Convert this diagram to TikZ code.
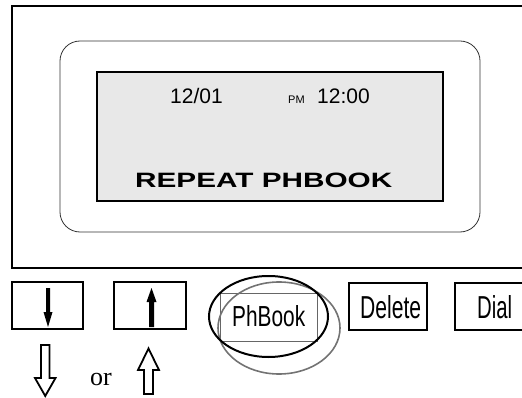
\documentclass[tikz,border=0pt]{standalone}
\usepackage{fontspec}
\setmainfont{Liberation Sans}
\newfontfamily\seriffont{Liberation Serif}
\usepackage{graphicx}
\begin{document}
\begin{tikzpicture}[x=1pt,y=-1pt,
  frame/.style={draw=black,line width=1.5pt},
  btn/.style={draw=black,line width=1.8pt,rectangle,inner sep=0pt},
  lbl/.style={inner sep=0pt,anchor=base west},
  hollow/.style={draw=black,line width=1.8pt,fill=white,line join=miter}]
\useasboundingbox (0,0) rectangle (522,398);
\clip (0,0) rectangle (522,398);
% housing
\draw[frame] (12,6) rectangle (540,268);
\draw[line width=0.8pt, draw=black!80, rounded corners=20pt] (60,41) rectangle (480,232);
% LCD
\node[draw=black, line width=2pt, fill=black!9, rectangle, minimum width=346pt, minimum height=129pt, inner sep=0pt] (lcd) at (270,136.5) {};
\node[lbl, font=\fontsize{21pt}{21pt}\selectfont] (date) at (170,104) {12/01};
\node[lbl, font=\fontsize{11pt}{11pt}\selectfont] (pm) at (288,104) {PM};
\node[lbl, font=\fontsize{21pt}{21pt}\selectfont] (time) at (317,104) {12:00};
\node[lbl] (mode) at (135,188) {\resizebox{257pt}{14.5pt}{\bfseries REPEAT PHBOOK}};
% buttons
\node[btn, minimum width=71pt, minimum height=47pt] (bdown) at (47.5,305.5) {};
\node[btn, minimum width=72pt, minimum height=47pt] (bup) at (150,305.5) {};
\node[draw=black!60, line width=0.8pt, rectangle, minimum width=97pt, minimum height=48pt, inner sep=0pt] (bph) at (268.5,317) {};
\node[btn, minimum width=78pt, minimum height=47pt] (bdel) at (388,306.5) {};
\node[btn, minimum width=90pt, minimum height=47pt] (bdial) at (500,306.5) {};
\node[lbl] (tph) at (232,326) {\resizebox{73pt}{21pt}{PhBook}};
\node[lbl] (tdel) at (360,318) {\resizebox{61pt}{23pt}{Delete}};
\node[lbl] (tdial) at (477,318) {\resizebox{35pt}{23pt}{Dial}};
% arrows inside buttons
\fill[black] (46,288) -- (50,288) -- (50,312) -- (52.5,312) -- (48,327) -- (43.5,312) -- (46,312) -- cycle;
\fill[black] (149,327) -- (154,327) -- (154,302) -- (156.5,302) -- (151.5,288) -- (146.5,302) -- (149,302) -- cycle;
% ellipses
\draw[black!55, line width=1.6pt] (279,328) ellipse [x radius=61, y radius=46];
\draw[black, line width=2pt] (268.5,316.5) ellipse [x radius=59.5, y radius=40.5];
% hollow arrows
\draw[hollow] (41,345) -- (49.5,345) -- (49.5,378) -- (55.5,378) -- (45.25,396) -- (35,378) -- (41,378) -- cycle;
\draw[hollow] (144,394) -- (153,394) -- (153,370) -- (159,370) -- (148.5,348.5) -- (138,370) -- (144,370) -- cycle;
\node[lbl, font=\seriffont\fontsize{26pt}{26pt}\selectfont] (or) at (90,385) {or};
\end{tikzpicture}
\end{document}
